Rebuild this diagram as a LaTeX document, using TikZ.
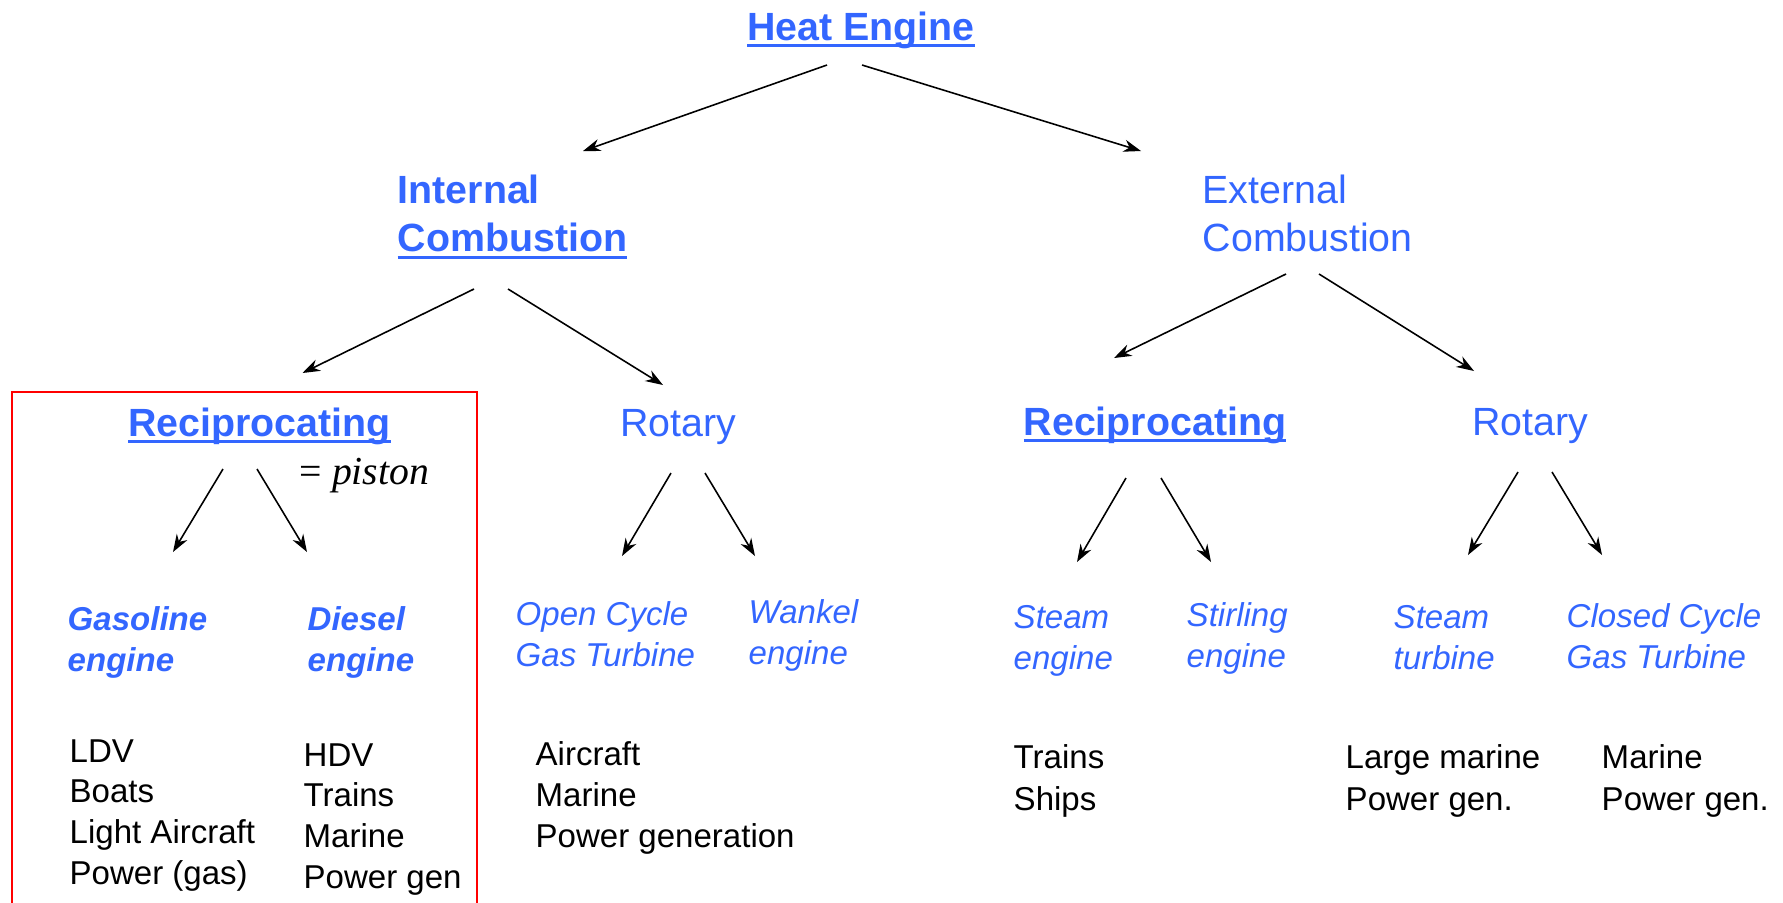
\documentclass[tikz,border=0pt]{standalone}
\usepackage{fontspec}
\setmainfont{Liberation Sans}
\newfontfamily\pistonfont{Liberation Serif}
\usepackage{graphicx}
\usetikzlibrary{calc}
\usetikzlibrary{arrows.meta}

\definecolor{engblue}{RGB}{51,102,255}
\newsavebox\ulbox
\newcommand{\ulink}[1]{\sbox\ulbox{#1}\rlap{\rule[-1.9pt]{\wd\ulbox}{0.7pt}}\usebox\ulbox}
\newcommand{\textlines}[1]{\begin{tabular}[t]{@{}l@{}}#1\end{tabular}}

\begin{document}
\begin{tikzpicture}[x=0.1mm,y=-0.1mm,
    every node/.style={inner sep=0pt},
    top/.style={text=engblue,font=\fontsize{11.2}{13.9}\selectfont},
    topbold/.style={top,font=\fontsize{11.2}{13.9}\selectfont\bfseries},
    kind/.style={text=engblue,anchor=base west,font=\fontsize{9.4}{11.9}\selectfont\itshape},
    kindbold/.style={kind,font=\fontsize{9.4}{11.9}\selectfont\bfseries\itshape},
    uses/.style={anchor=base west,font=\fontsize{9.4}{11.6}\selectfont},
    arr/.style={line width=0.45pt,-{Stealth[length=5pt,width=3.5pt]}}]
    \useasboundingbox (0,0) rectangle (1783,902);

    % top levels
    \node[topbold,anchor=base] (heat) at (861,40) {\ulink{Heat Engine}};
    \node[topbold,anchor=base west] (ic) at (397,203) {\textlines{Internal\\\ulink{Combustion}}};
    \node[top,anchor=base west] (ec) at (1202,203) {\textlines{External\\Combustion}};

    \node[topbold,anchor=base] (lrecip) at (259.5,436) {\ulink{Reciprocating}};
    \node[top,anchor=base] (lrot) at (678,436) {Rotary};
    \node[topbold,anchor=base] (rrecip) at (1155,435) {\ulink{Reciprocating}};
    \node[top,anchor=base] (rrot) at (1530,435) {Rotary};

    \node[anchor=base west,font=\fontsize{11.3}{13}\pistonfont] (piston) at (299,484) {= \textit{piston}};

    % engine kinds
    \node[kindbold] (gas) at (67,630) {\textlines{Gasoline\\engine}};
    \node[kindbold] (diesel) at (307,630) {\textlines{Diesel\\engine}};
    \node[kind] (ocgt) at (515,625) {\textlines{Open Cycle\\Gas Turbine}};
    \node[kind] (wankel) at (748,623) {\textlines{Wankel\\engine}};
    \node[kind] (steam) at (1013,628) {\textlines{Steam\\engine}};
    \node[kind] (stirling) at (1186,626) {\textlines{Stirling\\engine}};
    \node[kind] (sturb) at (1393,628) {\textlines{Steam\\turbine}};
    \node[kind] (ccgt) at (1566,627) {\textlines{Closed Cycle\\Gas Turbine}};

    % where they are used
    \node[uses] (gaslist) at (69,762) {\textlines{LDV\\Boats\\Light Aircraft\\Power (gas)}};
    \node[uses] (diesellist) at (303,766) {\textlines{HDV\\Trains\\Marine\\Power gen}};
    \node[uses,font=\fontsize{9.4}{11.7}\selectfont] (ocgtlist) at (535,765) {\textlines{Aircraft\\Marine\\Power generation}};
    \node[uses,font=\fontsize{9.4}{12.1}\selectfont] (steamlist) at (1013,768) {\textlines{Trains\\Ships}};
    \node[uses,font=\fontsize{9.4}{12.1}\selectfont] (sturblist) at (1345,768) {\textlines{Large marine\\Power gen.}};
    \node[uses,font=\fontsize{9.4}{12.1}\selectfont] (ccgtlist) at (1601,768) {\textlines{Marine\\Power gen.}};

    \draw[red,line width=0.6pt] (12,910) -- (12,392) -- (477,392) -- (477,910);

    \draw[arr] ($(heat.base)+(-34,25)$) -- ($(ic.base west)+(186,-52)$);
    \draw[arr] ($(heat.base)+(1,25)$) -- ($(ec.base west)+(-61,-52)$);

    \draw[arr] ($(ic.base west)+(77,86)$) -- ($(lrecip.base)+(43,-63)$);
    \draw[arr] ($(ic.base west)+(111,86)$) -- ($(lrot.base)+(-15,-51)$);
    \draw[arr] ($(ec.base west)+(84,71)$) -- ($(rrecip.base)+(-41,-77)$);
    \draw[arr] ($(ec.base west)+(117,71)$) -- ($(rrot.base)+(-56,-64)$);

    \draw[arr] ($(lrecip.base)+(-36.5,33)$) -- ($(gas.base west)+(106,-78)$);
    \draw[arr] ($(lrecip.base)+(-2.5,33)$) -- ($(diesel.base west)+(0,-78)$);
    \draw[arr] ($(lrot.base)+(-7,37)$) -- ($(ocgt.base west)+(107,-69)$);
    \draw[arr] ($(lrot.base)+(27,37)$) -- ($(wankel.base west)+(7,-67)$);
    \draw[arr] ($(rrecip.base)+(-29,43)$) -- ($(steam.base west)+(64,-66)$);
    \draw[arr] ($(rrecip.base)+(6,43)$) -- ($(stirling.base west)+(25,-64)$);
    \draw[arr] ($(rrot.base)+(-12,37)$) -- ($(sturb.base west)+(75,-73)$);
    \draw[arr] ($(rrot.base)+(22,37)$) -- ($(ccgt.base west)+(36,-72)$);

\end{tikzpicture}
\end{document}
